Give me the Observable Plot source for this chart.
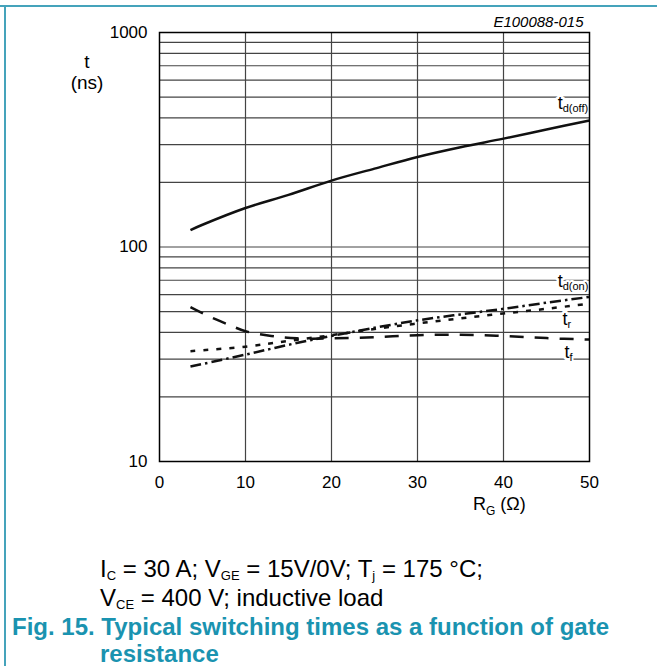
<!DOCTYPE html>
<html>
<head>
<meta charset="utf-8">
<script src="https://cdn.jsdelivr.net/npm/d3@7"></script>
<script src="https://cdn.jsdelivr.net/npm/@observablehq/plot@0.6"></script>
<style>
  html, body { margin: 0; padding: 0; background: #fff; }
  body { width: 657px; height: 666px; position: relative; overflow: hidden; font-family: "Liberation Sans", Arial, sans-serif; }
  #frameTop { position: absolute; left: 0; top: 5px; width: 657px; height: 0; border-top: 2px solid #45a3bb; }
  #frameLeft { position: absolute; left: 4px; top: 5px; width: 0; height: 661px; border-left: 2px solid #45a3bb; }
  #chart { position: absolute; left: 0; top: 0; }
  .abs { position: absolute; white-space: nowrap; }
  .cond { font-size: 24px; line-height: 20px; color: #000; }
  .cond sub { font-size: 13px; vertical-align: -3px; line-height: 0; }
  .fig { font-size: 24px; line-height: 20px; font-weight: bold; color: #1a93b0; }
  .xlab { font-size: 18px; line-height: 18px; }
  .xlab sub { font-size: 12px; vertical-align: -5px; line-height: 0; }
</style>
</head>
<body>
<div id="chart"></div>
<div id="frameTop"></div>
<div id="frameLeft"></div>
<div class="abs xlab" style="left:473px; top:495px;">R<sub>G</sub> (Ω)</div>
<div class="abs cond" style="left:100px; top:559px;">I<sub>C</sub> = 30 A; V<sub>GE</sub> = 15V/0V; T<sub>j</sub> = 175 °C;</div>
<div class="abs cond" style="left:100px; top:588px;">V<sub>CE</sub> = 400 V; inductive load</div>
<div class="abs fig" style="left:12px; top:617px;">Fig. 15.&nbsp;Typical switching times as a function of gate</div>
<div class="abs fig" style="left:100px; top:644px;">resistance</div>
<script>
// ---- data ----
const rgOff = [3.6, 5, 10, 15, 20, 25, 30, 35, 40, 45, 50];
const tdOff = [120, 127, 152, 175, 204, 232, 263, 292, 320, 353, 389];

const rgOn = [3.6, 10, 15, 20, 25, 30, 35, 40, 45, 50];
const tdOn = [27.7, 31.5, 35, 38.5, 42, 45.5, 48.5, 51.5, 55, 58.5];

const rgR = [3.6, 10, 15, 20, 25, 30, 35, 40, 45, 50];
const tR  = [32.7, 34.3, 36.5, 38.8, 41.5, 44, 46.5, 49, 51.5, 54.5];

const rgF = [3.6, 6, 8, 10, 13, 16, 20, 25, 30, 35, 40, 45, 50];
const tF  = [52.5, 47, 43.5, 40.5, 38.5, 37.5, 37.5, 38, 38.8, 39, 38.5, 37.6, 37];

const xTicks = [0, 10, 20, 30, 40, 50];
const yTicks = [10, 100, 1000];
const xGrid = [10, 20, 30, 40];
const yGrid = [20, 30, 40, 50, 60, 70, 80, 90, 100, 200, 300, 400, 500, 600, 700, 800, 900];

const seriesNames = ["t", "t", "t", "t"];
const seriesSubs = ["d(off)", "d(on)", "r", "f"];
const labelX = [46.3, 46.3, 46.85, 47.1];
const labelY = [438, 65, 43.3, 30.4];

// ---- build tables ----
const toRows = (xs, ys) => xs.map((x, i) => ({x, y: ys[i]}));
const off = toRows(rgOff, tdOff);
const on = toRows(rgOn, tdOn);
const rr = toRows(rgR, tR);
const ff = toRows(rgF, tF);
const labels = seriesSubs.map((s, i) => ({x: labelX[i], y: labelY[i], t: seriesNames[i], sub: s}));

const lineOpts = {x: "x", y: "y", stroke: "#111", strokeWidth: 2.5, curve: "catmull-rom", strokeLinecap: "butt"};

const chart = Plot.plot({
  width: 657,
  height: 530,
  marginTop: 32,
  marginBottom: 69,
  marginLeft: 159,
  marginRight: 68,
  style: {fontFamily: "'Liberation Sans', Arial, sans-serif", fontSize: "17px", background: "transparent", color: "#000"},
  x: {domain: [0, 50]},
  y: {type: "log", domain: [10, 1000]},
  marks: [
    Plot.ruleY(yGrid, {stroke: "#444", strokeWidth: 1.2}),
    Plot.ruleX(xGrid, {stroke: "#444", strokeWidth: 1.2}),
    Plot.line(off, {...lineOpts}),
    Plot.line(on, {...lineOpts, strokeDasharray: "11,4,2.5,4"}),
    Plot.line(rr, {...lineOpts, strokeDasharray: "5,8"}),
    Plot.line(ff, {...lineOpts, strokeDasharray: "14,11"}),
    // label halos
    Plot.text(labels, {x: "x", y: "y", text: "t", textAnchor: "start", lineAnchor: "bottom", fontSize: 18, fill: "white", stroke: "white", strokeWidth: 5}),
    Plot.text(labels, {x: "x", y: "y", text: "sub", textAnchor: "start", lineAnchor: "bottom", fontSize: 11, dx: 5, dy: 3, fill: "white", stroke: "white", strokeWidth: 4}),
    Plot.text(labels, {x: "x", y: "y", text: "t", textAnchor: "start", lineAnchor: "bottom", fontSize: 18, fill: "black"}),
    Plot.text(labels, {x: "x", y: "y", text: "sub", textAnchor: "start", lineAnchor: "bottom", fontSize: 11, dx: 5, dy: 3, fill: "black"}),
    Plot.frame({stroke: "#000", strokeWidth: 1.5}),
    Plot.axisY({ticks: yTicks, tickSize: 0, tickPadding: 12, tickFormat: d => String(d), label: null, fontSize: 17}),
    Plot.axisX({ticks: xTicks, tickSize: 0, tickPadding: 14, tickFormat: d => String(d), label: null, fontSize: 17}),
    Plot.text(["t"], {frameAnchor: "top-left", dx: -72.5, dy: 35, lineAnchor: "bottom", textAnchor: "middle", fontSize: 19}),
    Plot.text(["(ns)"], {frameAnchor: "top-left", dx: -72.5, dy: 56, lineAnchor: "bottom", textAnchor: "middle", fontSize: 19}),
    Plot.text(["E100088-015"], {frameAnchor: "top-right", dx: -6, dy: -6, lineAnchor: "bottom", textAnchor: "end", fontSize: 15, fontStyle: "italic"})
  ]
});
document.getElementById("chart").appendChild(chart);
</script>
</body>
</html>
